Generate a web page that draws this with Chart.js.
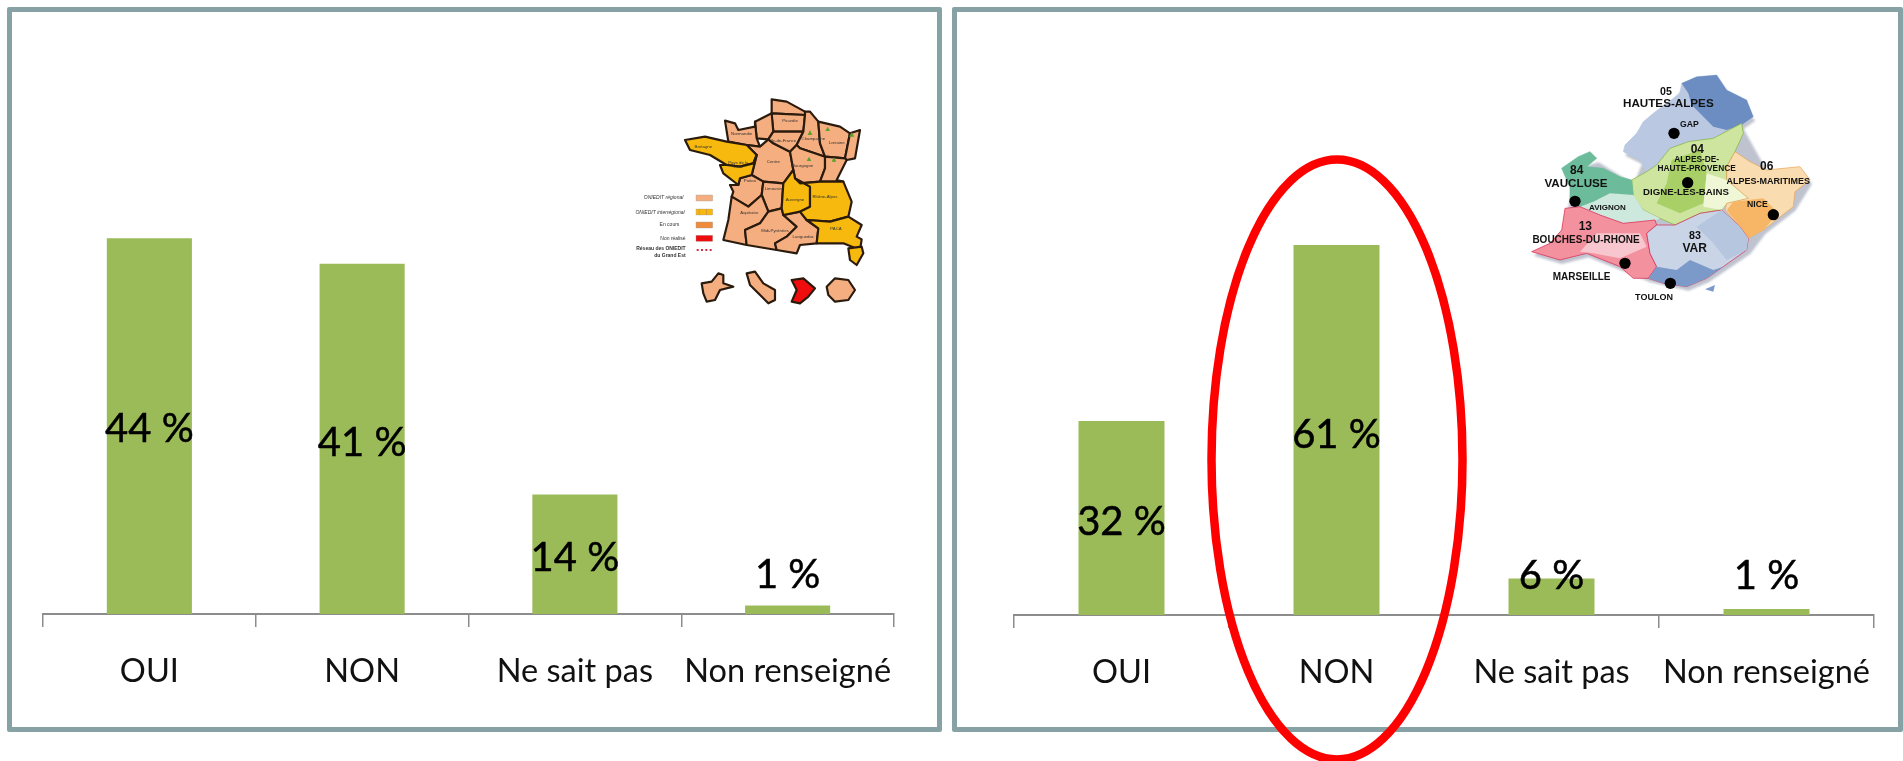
<!DOCTYPE html>
<html lang="fr"><head><meta charset="utf-8">
<script src="https://cdn.jsdelivr.net/npm/chart.js@4"></script>
<style>
html,body{margin:0;padding:0;background:#fff;width:1903px;height:761px;overflow:hidden}
.panel{position:absolute;box-sizing:border-box;border:5.5px solid #87A2A4;top:7px;height:725px;border-radius:2px}
canvas.c{position:absolute;top:0}
svg{position:absolute;overflow:visible}
svg text{font-family:"Liberation Sans",sans-serif}
</style></head><body>
<div class="panel" style="left:7px;width:935px"></div>
<div class="panel" style="left:952px;width:951px"></div>
<canvas id="a" class="c" style="left:0" width="950" height="761"></canvas>
<canvas id="b" class="c" style="left:950px" width="953" height="761"></canvas>

<!-- carte de France -->
<svg style="left:640px;top:80px" width="260" height="240" viewBox="0 0 780 720">
<defs><filter id="bl"><feGaussianBlur stdDeviation="1.6"/></filter>
<filter id="bl2"><feGaussianBlur stdDeviation="0.7"/></filter>
<pattern id="h" width="22" height="14" patternUnits="userSpaceOnUse"><rect width="22" height="14" fill="#F7B90F"/><rect width="3" height="14" fill="#D89A30"/></pattern></defs>
<g filter="url(#bl)" stroke="#2b1a10" stroke-width="6.5" stroke-linejoin="round">
<g fill="#F5AE80">
<polygon points="395,58 440,65 495,95 495,105 395,100"/>
<polygon points="395,100 495,105 490,155 400,155 395,110"/>
<polygon points="345,125 395,100 400,155 385,178 350,175"/>
<polygon points="255,122 285,130 295,150 345,140 345,125 350,175 360,200 320,195 265,185"/>
<polygon points="360,200 385,178 400,190 450,215 460,270 430,310 370,305 335,285 350,225 320,195"/>
<polygon points="400,155 490,155 470,195 450,215 400,190 385,178"/>
<polygon points="495,105 495,95 510,95 535,125 540,190 555,230 480,205 470,195 490,155"/>
<polygon points="535,125 600,140 630,160 615,235 555,230 540,190"/>
<polygon points="630,160 660,150 645,235 620,240 615,235"/>
<polygon points="450,215 470,195 480,205 555,230 555,265 540,305 480,310 465,295 460,270"/>
<polygon points="555,230 615,235 620,240 590,300 610,305 540,305 555,265"/>
<polygon points="300,295 335,285 370,305 365,345 325,380 275,350 280,335 270,315 295,315"/>
<polygon points="370,305 430,310 425,385 385,395 365,345"/>
<polygon points="275,350 325,380 365,345 385,395 360,430 315,450 320,495 250,480 265,420"/>
<polygon points="315,450 360,430 385,395 425,385 430,405 470,440 440,470 405,490 410,510 320,495"/>
<polygon points="430,405 480,395 500,420 535,445 530,490 480,495 470,520 410,510 405,490 440,470 470,440"/>
</g>
<g fill="#F7B90F">
<polygon points="135,180 195,170 260,185 320,195 350,225 340,250 300,260 260,255 210,225 150,210"/>
<polygon points="260,255 300,260 340,250 350,225 335,285 300,295 295,315 250,280 240,255"/>
<polygon points="430,310 460,270 465,295 510,320 510,380 480,395 430,405 425,385"/>
<polygon points="510,320 465,295 480,310 540,305 610,305 635,365 625,410 570,425 500,420 480,395 510,380"/>
<polygon points="570,425 625,410 665,435 650,470 665,478 660,510 610,490 530,490 535,445 500,420"/>
<polygon points="625,505 665,500 670,520 650,555 630,540"/>
</g>
<g fill="#F5AE80">
<polygon points="185,610 215,605 235,580 250,585 250,610 280,620 240,630 225,660 200,665 190,640"/>
<polygon points="320,580 345,575 370,610 405,630 405,660 385,670 355,640 330,615"/>
<polygon points="560,620 585,595 625,600 645,630 625,660 585,665 565,645"/>
</g>
<polygon fill="#F01010" points="455,600 490,595 525,625 505,650 480,670 455,665 470,630"/>
</g>
<g fill="#5aa02c" filter="url(#bl2)">
<polygon points="510,150 517,165 503,165"/><polygon points="563,140 570,153 556,153"/><polygon points="635,157 643,170 627,170"/><polygon points="507,230 514,243 500,243"/><polygon points="582,232 589,245 575,245"/>
</g>
<g font-size="13" fill="#333" text-anchor="middle" filter="url(#bl2)">
<text x="190" y="205">Bretagne</text><text x="295" y="252">Pays de la</text><text x="295" y="265">Loire</text>
<text x="400" y="248">Centre</text><text x="488" y="262">Bourgogne</text><text x="555" y="355">Rhône-Alpes</text>
<text x="465" y="362">Auvergne</text><text x="328" y="403">Aquitaine</text><text x="405" y="456">Midi-Pyrénées</text>
<text x="400" y="330">Limousin</text><text x="330" y="305">Poitou</text><text x="490" y="475">Languedoc</text>
<text x="520" y="180">Champagne</text><text x="590" y="192">Lorraine</text><text x="430" y="185">Ile-de-France</text>
<text x="588" y="450">PACA</text><text x="450" y="125">Picardie</text><text x="305" y="165">Normandie</text>
</g>
<g filter="url(#bl2)">
<rect x="168" y="345" width="50" height="18" fill="#F5AE80" stroke="#999"/>
<rect x="168" y="387" width="50" height="18" fill="url(#h)" stroke="#999"/>
<rect x="168" y="426" width="50" height="18" fill="#EE8B3C" stroke="#999"/>
<rect x="168" y="466" width="50" height="18" fill="#EE1010" stroke="#999"/>
<line x1="170" y1="510" x2="222" y2="510" stroke="#D8324A" stroke-width="6" stroke-dasharray="6 7"/>
</g>
<g font-size="15" fill="#333" text-anchor="end" font-family="Liberation Serif" filter="url(#bl2)">
<text x="130" y="358" font-style="italic">ONIEDIT régional</text>
<text x="134" y="403" font-style="italic">ONIEDIT interrégional</text>
<text x="118" y="439">En cours</text>
<text x="137" y="481">Non réalisé</text>
<text x="137" y="511" font-weight="700">Réseau des ONIEDIT</text>
<text x="137" y="530" font-weight="700">du Grand Est</text>
</g>
</svg>

<!-- carte PACA -->
<svg style="left:1500px;top:70px" width="330" height="240" viewBox="0 0 990 720">
<defs><filter id="sh"><feGaussianBlur stdDeviation="3"/></filter></defs>
<g filter="url(#sh)" fill="#8b93a8" opacity=".55" transform="translate(6,12)">
<polygon points="545,40 650,15 680,60 760,140 725,165 800,300 900,290 930,330 880,410 790,480 745,540 620,625 560,650 445,625 360,590 260,550 180,570 95,545 185,480 195,415 210,350 185,295 290,265 395,330 420,270 370,245 430,155 500,100"/>
</g>
<g stroke-width="2" stroke-linejoin="round">
<polygon fill="#BAC8E1" stroke="#BAC8E1" points="545,40 590,20 650,15 680,60 740,90 760,140 725,165 680,180 640,205 565,215 510,235 470,285 440,305 420,270 370,245 375,225 410,190 430,155 460,130 500,100 540,70"/>
<polygon fill="#6C8DC2" points="545,40 590,20 650,15 680,60 740,90 760,140 725,165 680,180 640,170 600,130 575,105 565,70"/>
<polygon fill="#CDE59F" stroke="#7FAF3A" points="725,160 730,190 705,245 680,290 680,330 745,385 680,400 665,420 600,430 525,465 480,445 430,420 400,380 395,330 440,305 470,285 510,235 565,215 640,205"/>
<polygon fill="#A8D066" points="515,270 600,240 620,310 610,400 540,430 470,400 500,340"/>
<polygon fill="#F0F7D6" points="620,310 680,330 745,385 680,400 665,420 610,410"/>
<polygon fill="#F9DDB0" stroke="#E8A050" points="705,245 750,275 800,300 900,290 930,330 885,365 880,410 835,445 790,480 745,505 720,470 675,420 680,400 745,385 680,330 680,290"/>
<polygon fill="#F7B666" points="700,395 790,385 835,430 790,480 745,505 720,470 680,420"/>
<polygon fill="#6CBB9A" stroke="#6CBB9A" points="235,260 270,245 290,265 260,290 310,295 360,320 395,330 400,380 280,395 240,410 210,400 210,350 185,295"/>
<polygon fill="#CDE8DD" points="240,410 280,395 330,370 400,375 430,420 480,445 465,452 370,460 300,435"/>
<polygon fill="#F3919E" stroke="#D8204A" points="195,415 240,410 300,435 370,460 465,450 470,465 440,490 450,550 470,590 445,625 400,625 360,590 260,550 180,570 95,545 150,520 185,480"/>
<polygon fill="#F8C6CE" points="240,545 290,490 420,490 440,530 360,565 280,550"/>
<polygon fill="#C9D4E6" stroke="#D8204A" points="440,490 470,465 525,465 600,430 665,420 720,470 745,505 740,540 670,590 620,625 560,650 490,640 445,625 470,590 450,550"/>
<polygon fill="#7C9AC9" points="445,625 470,590 530,600 570,570 640,600 670,590 620,625 560,650 490,640"/>
<polygon fill="#B7C6DF" points="590,470 665,420 720,470 745,505 740,540 680,570 640,520"/>
<polygon fill="#7C9AC9" points="615,658 645,645 640,665"/>
</g>
<g fill="#000">
<circle cx="522" cy="190" r="17"/><circle cx="563" cy="338" r="17"/><circle cx="820" cy="434" r="17"/><circle cx="225" cy="394" r="17"/><circle cx="375" cy="580" r="17"/><circle cx="511" cy="640" r="17"/>
</g>
<g fill="#111" font-weight="700" text-anchor="middle">
<text x="498" y="75" font-size="32">05</text>
<text x="505" y="112" font-size="35">HAUTES-ALPES</text>
<text x="568" y="172" font-size="26">GAP</text>
<text x="592" y="250" font-size="36">04</text>
<text x="590" y="275" font-size="25">ALPES-DE-</text>
<text x="590" y="302" font-size="25">HAUTE-PROVENCE</text>
<text x="558" y="376" font-size="29">DIGNE-LES-BAINS</text>
<text x="800" y="300" font-size="36">06</text>
<text x="805" y="342" font-size="27">ALPES-MARITIMES</text>
<text x="772" y="412" font-size="26">NICE</text>
<text x="230" y="312" font-size="36">84</text>
<text x="228" y="350" font-size="35">VAUCLUSE</text>
<text x="322" y="420" font-size="24">AVIGNON</text>
<text x="256" y="480" font-size="36">13</text>
<text x="258" y="518" font-size="30">BOUCHES-DU-RHONE</text>
<text x="245" y="630" font-size="30">MARSEILLE</text>
<text x="585" y="508" font-size="32">83</text>
<text x="584" y="547" font-size="36">VAR</text>
<text x="462" y="690" font-size="27">TOULON</text>
</g>
</svg>

<!-- ellipse rouge -->
<svg style="left:0;top:0" width="1903" height="761" viewBox="0 0 1903 761">
<ellipse cx="1337" cy="459.5" rx="125.5" ry="300" fill="none" stroke="#FF0000" stroke-width="8.5"/>
</svg>

<script>
const categories = ["OUI", "NON", "Ne sait pas", "Non renseigné"];
const valuesFrance = [44, 41, 14, 1];
const valuesPaca = [32, 61, 6, 1];
const labelsFrance = ["44 %", "41 %", "14 %", "1 %"];
const labelsPaca = ["32 %", "61 %", "6 %", "1 %"];
const labelHeightsFrance = [21.6, 20, 6.6, 4.6];
const labelHeightsPaca = [15.4, 29.6, 6.4, 6.4];
const FONT = 'Lato, "Open Sans", sans-serif';

const labelPlugin = {
  id: 'barLabels',
  afterDatasetsDraw(chart, args, opts) {
    const {ctx, scales: {x, y}} = chart;
    ctx.save();
    ctx.font = '40px ' + FONT;
    ctx.fillStyle = '#000';
    ctx.strokeStyle = '#000';
    ctx.lineWidth = 0.5;
    ctx.textAlign = 'center';
    ctx.textBaseline = 'middle';
    opts.texts.forEach((t, i) => {
      const px = x.getPixelForValue(i), py = y.getPixelForValue(opts.heights[i]);
      ctx.fillText(t, px, py);
      ctx.strokeText(t, px, py);
    });
    ctx.restore();
  }
};

function make(id, values, texts, heights, yMax, padL, padR, padT, axisH, tickPad) {
  return new Chart(document.getElementById(id), {
    type: 'bar',
    plugins: [labelPlugin],
    data: { labels: categories, datasets: [{ data: values, backgroundColor: '#9BBB59', barPercentage: 0.4, categoryPercentage: 1 }] },
    options: {
      responsive: false, animation: false,
      layout: { padding: { left: padL, right: padR, top: padT, bottom: 0 } },
      plugins: { legend: { display: false }, tooltip: { enabled: false }, barLabels: { texts, heights } },
      scales: {
        y: { display: false, min: 0, max: yMax },
        x: {
          afterFit(s) { s.height = axisH; },
          grid: { offset: true, drawOnChartArea: false, drawTicks: true, tickLength: 13, color: '#8c8c8c', lineWidth: 1.5 },
          border: { color: '#8c8c8c', width: 2 },
          ticks: { color: '#111', padding: tickPad, maxRotation: 0, autoSkip: false, font: { family: FONT, size: 32.5 } }
        }
      }
    }
  });
}
make('a', valuesFrance, labelsFrance, labelHeightsFrance, 50, 43, 56, 187, 147, 25);
make('b', valuesPaca, labelsPaca, labelHeightsPaca, 70, 64, 29, 190.5, 146, 25);
</script>
</body></html>
